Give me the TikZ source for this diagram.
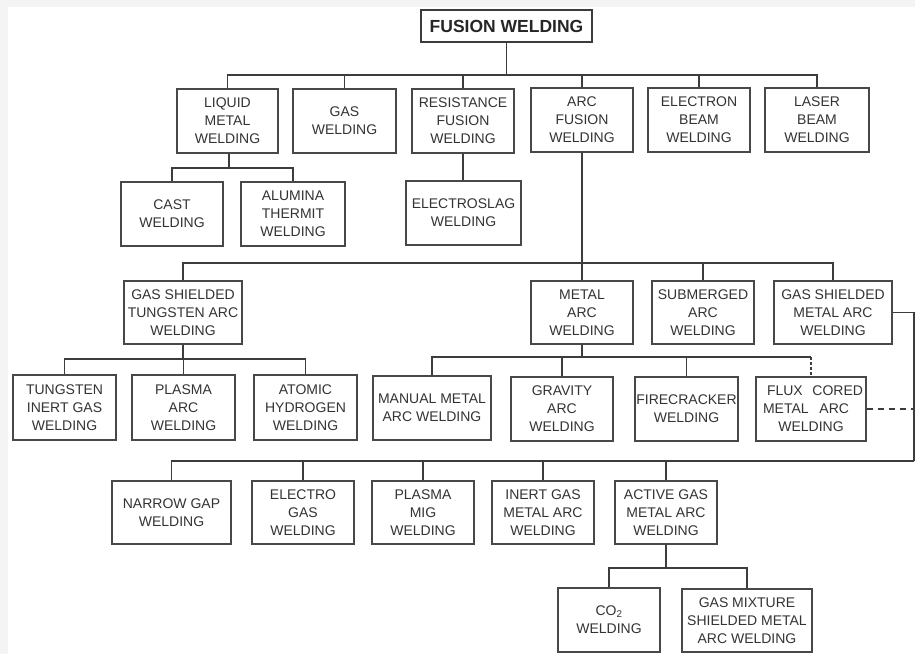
\documentclass[tikz,border=0pt]{standalone}
\usepackage{fontspec}
\setmainfont{Liberation Sans}
\definecolor{boxc}{HTML}{484848}
\definecolor{linec}{HTML}{3C3C3C}
\definecolor{txt}{HTML}{333333}
\definecolor{edgebg}{HTML}{F4F4F4}
\begin{document}
\begin{tikzpicture}[x=1pt,y=-1pt,
  box/.style={draw=boxc, line width=1.3pt, text=txt, align=center, inner sep=0pt,
    minimum width=102pt, minimum height=64pt, font=\fontsize{14}{18}\selectfont},
  conn/.style={draw=linec, line width=1.2pt},
  dconn/.style={conn, dash pattern=on 6pt off 5pt},
  title/.style={draw=linec, line width=1.6pt, text=black!85, inner sep=0pt,
    minimum width=171pt, minimum height=32pt, font=\bfseries\fontsize{17.5}{20}\selectfont},
]
\useasboundingbox (0,0) rectangle (915,654);
\fill[edgebg] (0,0) rectangle (915,654);
\fill[white] (8,7) rectangle (915,654);

% title
\node[title] (fw) at (506.5,26) {FUSION WELDING};

% level 1
\node[box, minimum width=101pt] (lmw) at (227.5,121) {LIQUID\\METAL\\WELDING};
\node[box, minimum width=103pt] (gas) at (344.5,121) {GAS\\WELDING};
\node[box] (rfw) at (463,121) {RESISTANCE\\FUSION\\WELDING};
\node[box] (afw) at (582,120) {ARC\\FUSION\\WELDING};
\node[box] (ebw) at (699,120) {ELECTRON\\BEAM\\WELDING};
\node[box, minimum width=104pt] (lbw) at (817,120) {LASER\\BEAM\\WELDING};

% level 2
\node[box] (cast) at (172,214) {CAST\\WELDING};
\node[box, minimum width=104pt] (atw) at (293,214) {ALUMINA\\THERMIT\\WELDING};
\node[box, minimum width=115pt] (esw) at (463.5,213) {ELECTROSLAG\\WELDING};

% level 3
\node[box, minimum width=118pt, minimum height=63pt] (gstaw) at (183,312.5) {GAS SHIELDED\\TUNGSTEN ARC\\WELDING};
\node[box, minimum height=63pt] (maw) at (582,312.5) {METAL\\ARC\\WELDING};
\node[box, minimum height=63pt] (saw) at (703,312.5) {SUBMERGED\\ARC\\WELDING};
\node[box, minimum width=118pt, minimum height=63pt] (gsmaw) at (833,312.5) {GAS SHIELDED\\METAL ARC\\WELDING};

% level 4
\node[box, minimum width=103pt, minimum height=65pt] (tig) at (64.5,407.5) {TUNGSTEN\\INERT GAS\\WELDING};
\node[box, minimum width=103pt, minimum height=65pt] (paw) at (183.5,407.5) {PLASMA\\ARC\\WELDING};
\node[box, minimum width=103pt, minimum height=65pt] (ahw) at (305.5,407.5) {ATOMIC\\HYDROGEN\\WELDING};
\node[box, minimum width=118pt] (mmaw) at (432,408) {MANUAL METAL\\ARC WELDING};
\node[box] (gaw) at (562,409) {GRAVITY\\ARC\\WELDING};
\node[box, minimum width=103pt] (fcw) at (686.5,409) {FIRECRACKER\\WELDING};
\node[box, minimum width=110pt] (fcmaw) at (811,409) {\hspace*{8pt}\makebox[96pt][s]{FLUX CORED}\\\makebox[96pt][s]{METAL ARC\hspace*{10pt}}\\WELDING};

% level 5
\node[box, minimum width=119pt, minimum height=63pt] (ngw) at (171.5,512.5) {NARROW GAP\\WELDING};
\node[box, minimum height=63pt] (egw) at (303,512.5) {ELECTRO\\GAS\\WELDING};
\node[box, minimum height=63pt] (pmig) at (423,512.5) {PLASMA\\MIG\\WELDING};
\node[box, minimum height=63pt] (igmaw) at (543,512.5) {INERT GAS\\METAL ARC\\WELDING};
\node[box, minimum height=63pt] (agmaw) at (666,512.5) {ACTIVE GAS\\METAL ARC\\WELDING};

% level 6
\node[box] (co2) at (609,620) {CO\textsubscript{2}\\WELDING};
\node[box, minimum width=130pt, minimum height=63pt] (gmix) at (747,620.5) {GAS MIXTURE\\SHIELDED METAL\\ARC WELDING};

% connectors
\coordinate (b1) at (506.5,75);
\draw[conn] (fw.south) -- (b1);
\foreach \c in {lmw,gas,rfw,afw,ebw,lbw} \draw[conn] (b1) -| (\c.north);

\coordinate (b2) at (229,168);
\draw[conn] (lmw.south -| b2) -- (b2);
\foreach \c in {cast,atw} \draw[conn] (b2) -| (\c.north);

\draw[conn] (rfw.south) -- (esw.north -| rfw.south);

\coordinate (b3) at (582,263);
\draw[conn] (afw.south) -- (b3);
\foreach \c in {gstaw,maw,saw,gsmaw} \draw[conn] (b3) -| (\c.north);

\coordinate (b4) at (183,359);
\draw[conn] (gstaw.south) -- (b4);
\foreach \c in {tig,paw,ahw} \draw[conn] (b4) -| (\c.north);

\coordinate (b5) at (582,357);
\draw[conn] (maw.south) -- (b5);
\foreach \c in {mmaw,gaw,fcw} \draw[conn] (b5) -| (\c.north);
\draw[conn] (b5) -- (fcmaw.north |- b5);
\draw[conn, dash pattern=on 3pt off 2pt] (fcmaw.north |- b5) -- (fcmaw.north);

\coordinate (r1) at (914,312.5);
\coordinate (r2) at (914,461);
\draw[conn] (gsmaw.east) -- (r1) -- (r2);
\foreach \c in {ngw,egw,pmig,igmaw,agmaw} \draw[conn] (r2) -| (\c.north);
\draw[dconn] (fcmaw.east) -- (fcmaw.east -| r1);

\coordinate (b6) at (666,568);
\draw[conn] (agmaw.south) -- (b6);
\foreach \c in {co2,gmix} \draw[conn] (b6) -| (\c.north);
\end{tikzpicture}
\end{document}
